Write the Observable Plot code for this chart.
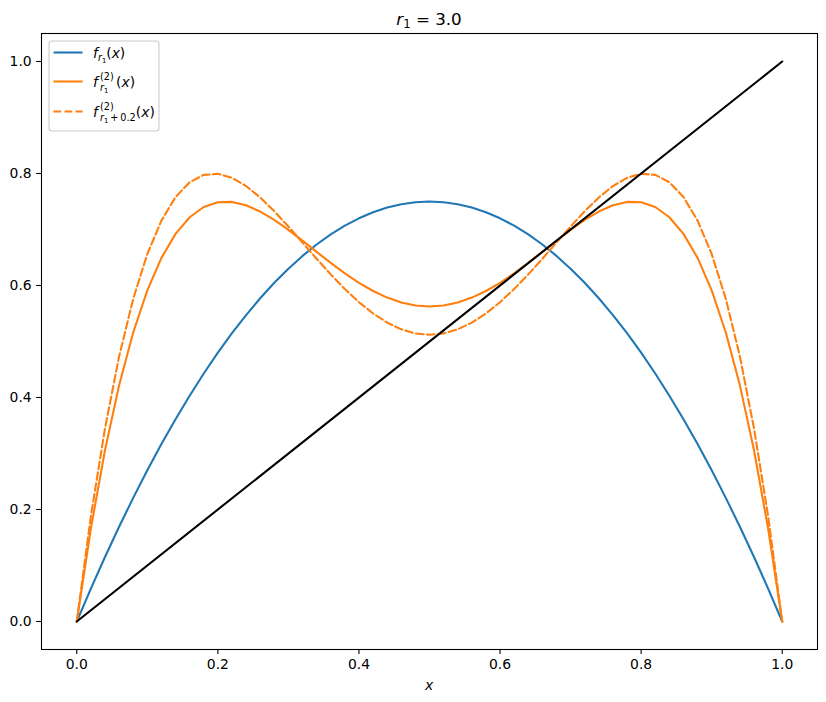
<!DOCTYPE html>
<html>
<head>
<meta charset="utf-8">
<script src="https://cdn.jsdelivr.net/npm/d3@7"></script>
<script src="https://cdn.jsdelivr.net/npm/@observablehq/plot@0.6"></script>
<style>
  html, body { margin: 0; padding: 0; background: white; }
  svg { display: block; }
</style>
</head>
<body>
<div id="chart"></div>
<script>
// ---- data ----
const xValues = [0,0.02,0.04,0.06,0.08,0.1,0.12,0.14,0.16,0.18,0.2,0.22,0.24,0.26,0.28,0.3,0.32,0.34,0.36,0.38,0.4,0.42,0.44,0.46,0.48,0.5,0.52,0.54,0.56,0.58,0.6,0.62,0.64,0.66,0.68,0.7,0.72,0.74,0.76,0.78,0.8,0.82,0.84,0.86,0.88,0.9,0.92,0.94,0.96,0.98,1];
const fValues = [0,0.0588,0.1152,0.1692,0.2208,0.27,0.3168,0.3612,0.4032,0.4428,0.48,0.5148,0.5472,0.5772,0.6048,0.63,0.6528,0.6732,0.6912,0.7068,0.72,0.7308,0.7392,0.7452,0.7488,0.75,0.7488,0.7452,0.7392,0.7308,0.72,0.7068,0.6912,0.6732,0.6528,0.63,0.6048,0.5772,0.5472,0.5148,0.48,0.4428,0.4032,0.3612,0.3168,0.27,0.2208,0.1692,0.1152,0.0588,0];
const f2Values = [0,0.1660,0.3058,0.4217,0.5161,0.5913,0.6493,0.6922,0.7219,0.7402,0.7488,0.7493,0.7433,0.7321,0.7171,0.6993,0.6800,0.6600,0.6403,0.6217,0.6048,0.5902,0.5784,0.5696,0.5643,0.5625,0.5643,0.5696,0.5784,0.5902,0.6048,0.6217,0.6403,0.6600,0.6800,0.6993,0.7171,0.7321,0.7433,0.7493,0.7488,0.7402,0.7219,0.6922,0.6493,0.5913,0.5161,0.4217,0.3058,0.1660,0];
const f2bValues = [0,0.1881,0.3449,0.4733,0.5762,0.6562,0.7159,0.7579,0.7844,0.7975,0.7995,0.7923,0.7776,0.7572,0.7326,0.7053,0.6767,0.6478,0.6198,0.5937,0.5702,0.5500,0.5337,0.5217,0.5145,0.5120,0.5145,0.5217,0.5337,0.5500,0.5702,0.5937,0.6198,0.6478,0.6767,0.7053,0.7326,0.7572,0.7776,0.7923,0.7995,0.7975,0.7844,0.7579,0.7159,0.6562,0.5762,0.4733,0.3449,0.1881,0];
const diagX = [0, 1];
const diagY = [0, 1];
const xTicks = [0, 0.2, 0.4, 0.6, 0.8, 1.0];
const yTicks = [0, 0.2, 0.4, 0.6, 0.8, 1.0];

const rows = xValues.map((x, i) => ({x, f: fValues[i], f2: f2Values[i], f2b: f2bValues[i]}));
const diag = diagX.map((x, i) => ({x, y: diagY[i]}));

const BLUE = "#1f77b4", ORANGE = "#ff7f0e";
const LW = 2.08;
const FONT = "DejaVu Sans";

const svg = Plot.plot({
  width: 826,
  height: 702,
  marginLeft: 41,
  marginRight: 9,
  marginTop: 33,
  marginBottom: 53,
  style: {fontFamily: FONT, fontSize: "13.9px", background: "white", color: "black"},
  x: {domain: [-0.05, 1.05]},
  y: {domain: [-0.05, 1.05]},
  marks: [
    Plot.axisX({ticks: xTicks, tickFormat: d => d.toFixed(1), tickSize: 4.9, tickPadding: 4.9, strokeWidth: 1.1, label: null, fontSize: 13.9}),
    Plot.axisY({ticks: yTicks, tickFormat: d => d.toFixed(1), tickSize: 4.9, tickPadding: 4.9, strokeWidth: 1.1, label: null, fontSize: 13.9}),
    Plot.line(rows, {x: "x", y: "f", stroke: BLUE, strokeWidth: LW, strokeLinejoin: "round"}),
    Plot.line(rows, {x: "x", y: "f2", stroke: ORANGE, strokeWidth: LW, strokeLinejoin: "round"}),
    Plot.line(rows, {x: "x", y: "f2b", stroke: ORANGE, strokeWidth: LW, strokeLinejoin: "round", strokeDasharray: "7.7,3.3"}),
    Plot.line(diag, {x: "x", y: "y", stroke: "black", strokeWidth: LW}),
    Plot.frame({stroke: "black", strokeWidth: 1.1})
  ]
});
document.getElementById("chart").appendChild(svg);

const root = d3.select(svg);
const g = root.append("g").attr("font-family", FONT).attr("fill", "black").attr("text-anchor", "start");

// title
const title = g.append("text").attr("x", 429).attr("y", 25).attr("text-anchor", "middle").attr("font-size", 16.7);
title.append("tspan").attr("font-style", "italic").text("r");
title.append("tspan").attr("font-size", 11.7).attr("dy", 3).text("1");
title.append("tspan").attr("dy", -3).text(" = 3.0");

// x label
g.append("text").attr("x", 429).attr("y", 690).attr("text-anchor", "middle")
  .attr("font-size", 13.9).attr("font-style", "italic").text("x");

// legend
const lg = g.append("g").attr("text-anchor", "start");
lg.append("rect").attr("x", 49).attr("y", 41).attr("width", 110).attr("height", 90)
  .attr("rx", 3).attr("fill", "white").attr("fill-opacity", 0.8)
  .attr("stroke", "#cccccc").attr("stroke-width", 1.1);

const handles = [
  {y: 52.5, dash: null},
  {y: 81.5, dash: null},
  {y: 111.5, dash: "7.7,3.3"}
];
handles.forEach((h, i) => {
  lg.append("line").attr("x1", 53.5).attr("x2", 82.5).attr("y1", h.y).attr("y2", h.y)
    .attr("stroke", i === 0 ? BLUE : ORANGE).attr("stroke-width", LW)
    .attr("stroke-dasharray", h.dash);
});

function piece(x, y, size, parts) {
  const t = lg.append("text").attr("x", x).attr("y", y).attr("font-size", size).attr("text-anchor", "start");
  parts.forEach(p => {
    const s = t.append("tspan").text(p.t);
    if (p.i) s.attr("font-style", "italic");
    if (p.s) s.attr("font-size", p.s);
    if (p.dy) s.attr("dy", p.dy);
  });
  return t;
}
// row 1: f_{r_1}(x)
piece(93, 57.5, 13.9, [
  {t: "f", i: true},
  {t: "r", i: true, s: 9.7, dy: 3},
  {t: "1", s: 6.8, dy: 2},
  {t: "(", dy: -5},
  {t: "x", i: true},
  {t: ")"}
]);
// row 2: f^{(2)}_{r_1}(x)
piece(93, 86.5, 13.9, [{t: "f", i: true}]);
piece(100, 80, 9.7, [{t: "(2)"}]);
piece(100, 90.5, 9.7, [{t: "r", i: true}, {t: "1", s: 6.8, dy: 2}]);
piece(116, 86.5, 13.9, [{t: "("}, {t: "x", i: true}, {t: ")"}]);
// row 3: f^{(2)}_{r_1+0.2}(x)
piece(93, 116.5, 13.9, [{t: "f", i: true}]);
piece(100, 110, 9.7, [{t: "(2)"}]);
piece(100, 120.5, 9.7, [
  {t: "r", i: true},
  {t: "1", s: 6.8, dy: 2},
  {t: "\u2009+\u20090.2", dy: -2},
  {t: "(", s: 13.9, dy: -4},
  {t: "x", i: true, s: 13.9},
  {t: ")", s: 13.9}
]);
</script>
</body>
</html>
